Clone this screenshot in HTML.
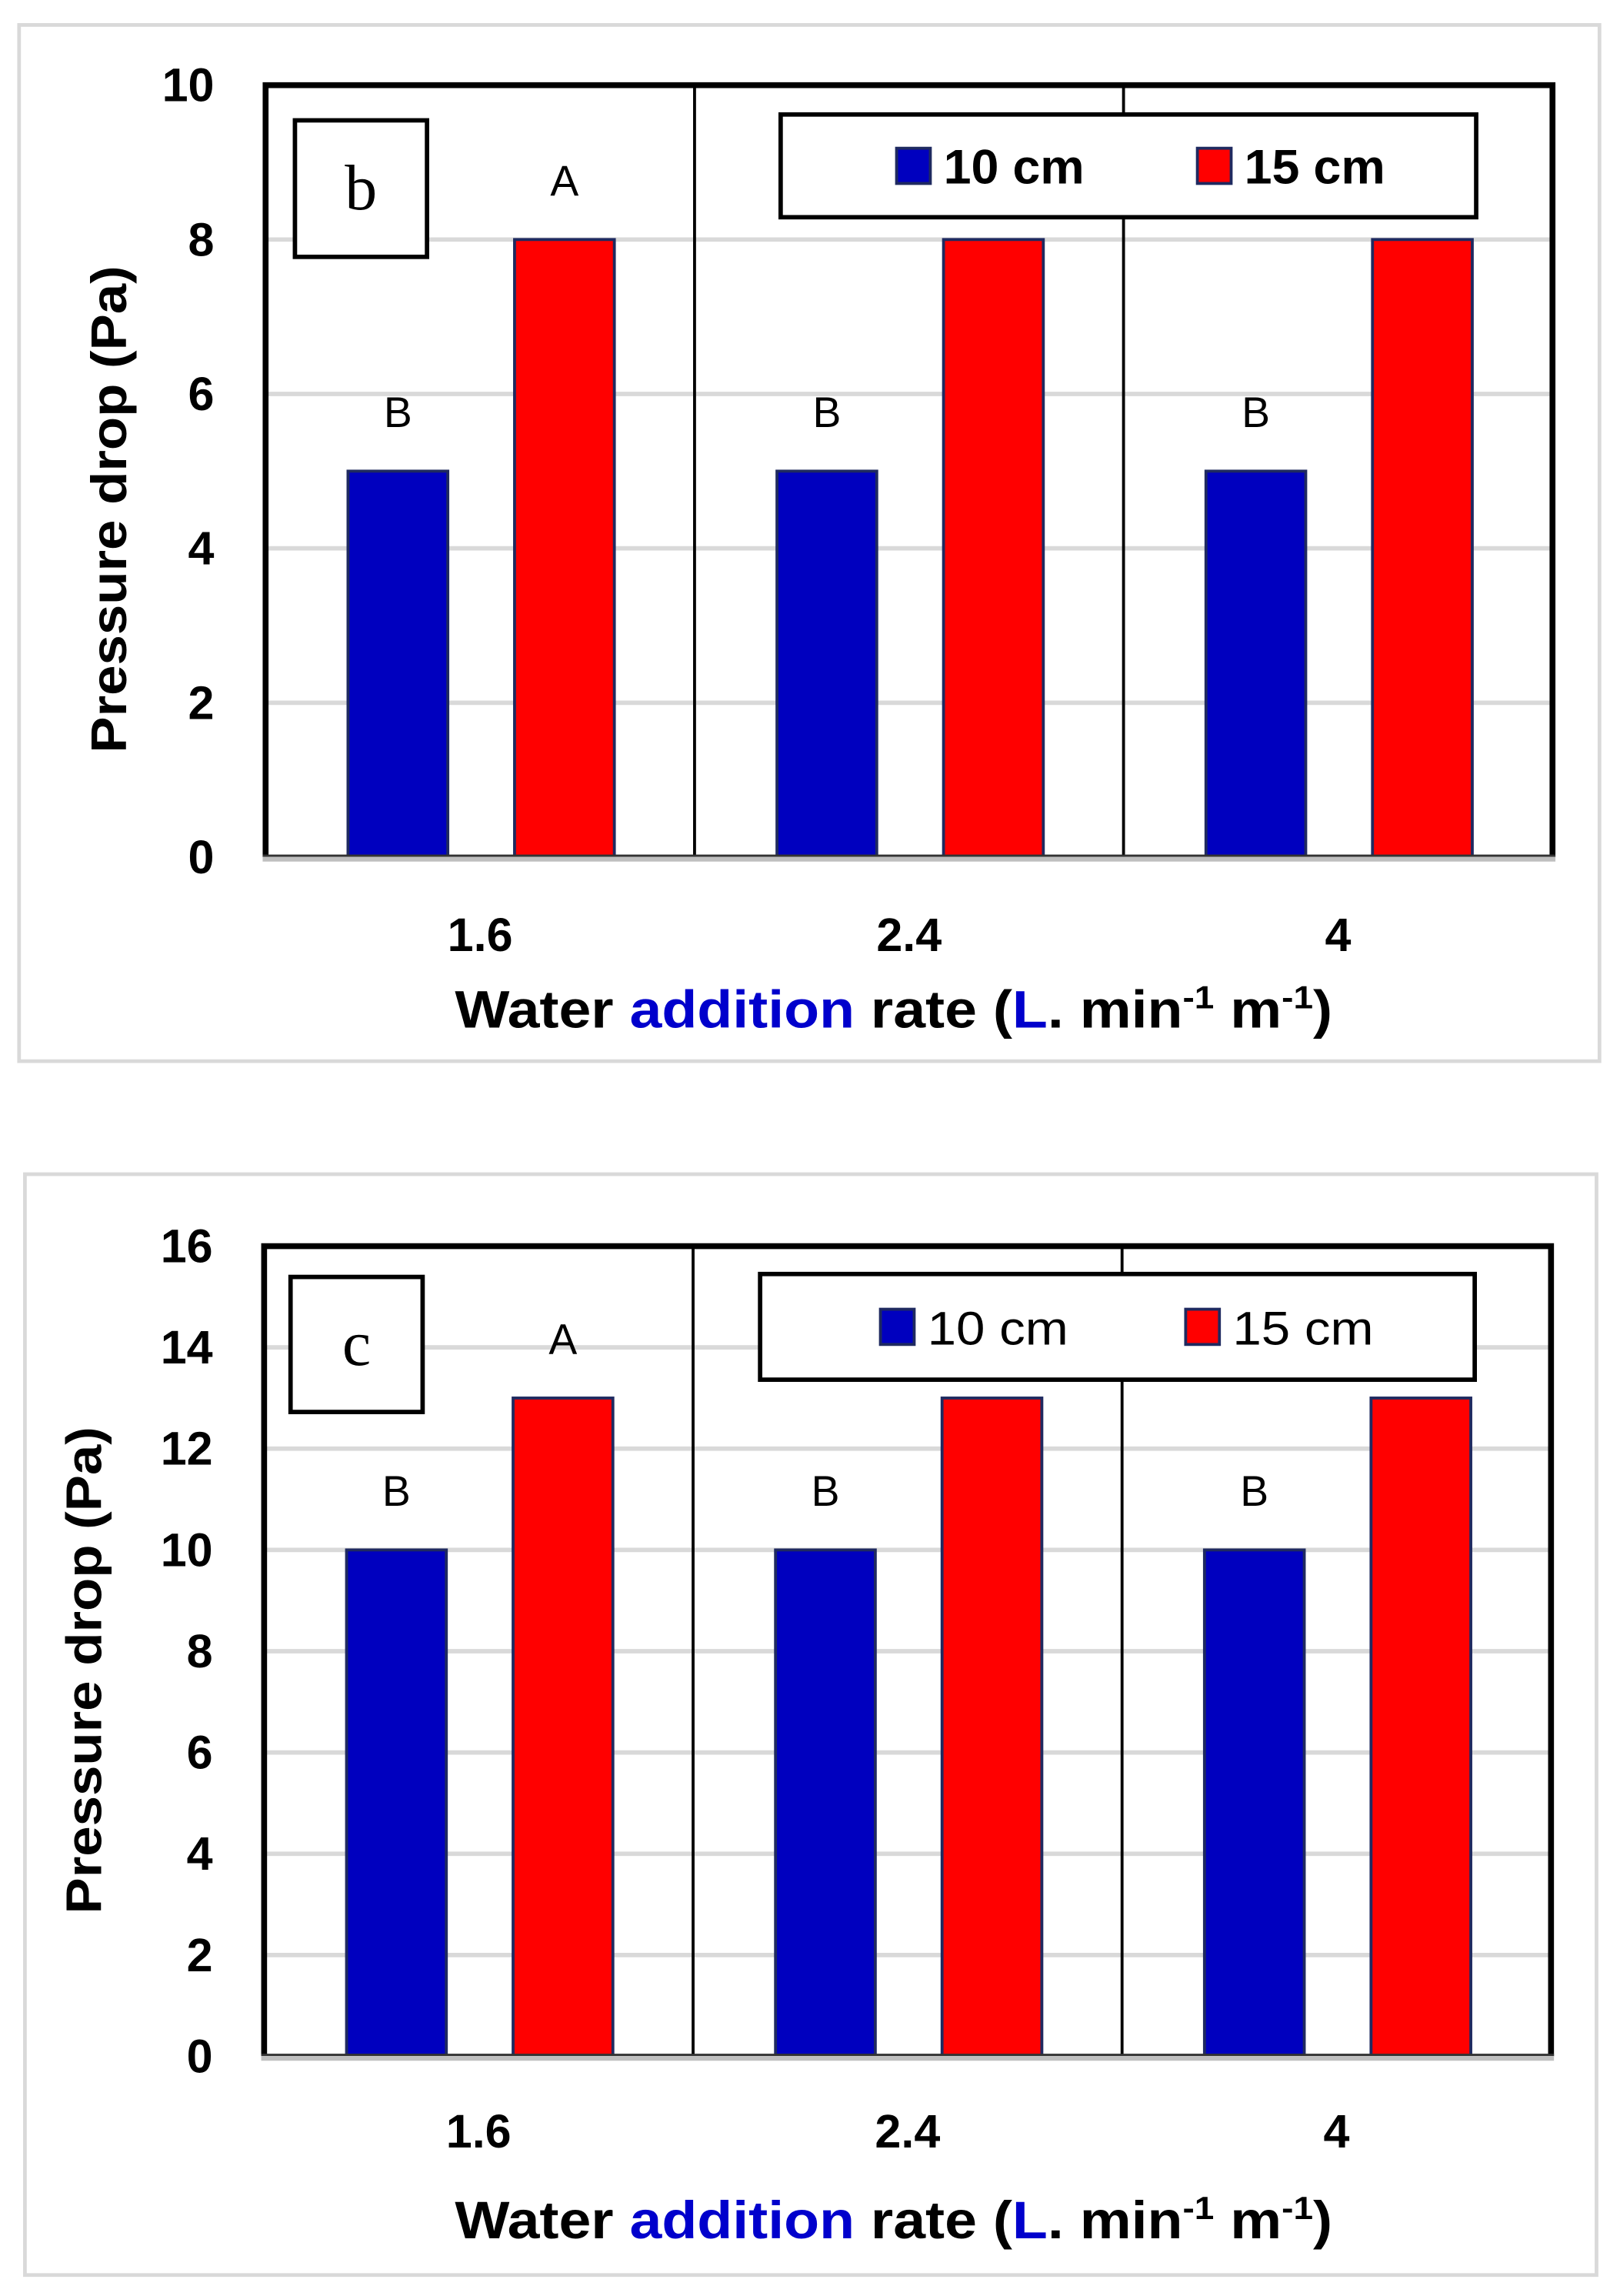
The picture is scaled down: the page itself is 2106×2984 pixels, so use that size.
<!DOCTYPE html>
<html><head><meta charset="utf-8"><style>
html,body{margin:0;padding:0;background:#fff}
svg{display:block}
text{font-family:"Liberation Sans",sans-serif}
</style></head><body>
<svg id="fig" width="2106" height="2984" viewBox="0 0 1104 1564.3" preserveAspectRatio="none" xmlns="http://www.w3.org/2000/svg"></svg>
<script>
const categories = ["1.6", "2.4", "4"];
const seriesNames = ["10 cm", "15 cm"];
const valuesB10 = [5, 5, 5];
const valuesB15 = [8, 8, 8];
const lettersB10 = ["B", "B", "B"];
const lettersB15 = ["A", "", ""];
const ticksB = [0, 2, 4, 6, 8, 10];
const valuesC10 = [10, 10, 10];
const valuesC15 = [13, 13, 13];
const lettersC10 = ["B", "B", "B"];
const lettersC15 = ["A", "", ""];
const ticksC = [0, 2, 4, 6, 8, 10, 12, 14, 16];

const NS = "http://www.w3.org/2000/svg";
const svg = document.getElementById('fig');
function mk(tag, attrs, parent, txt) {
  const e = document.createElementNS(NS, tag);
  for (const k in attrs) e.setAttribute(k, attrs[k]);
  if (txt !== undefined) e.textContent = txt;
  (parent || svg).appendChild(e);
  return e;
}
function chart(cfg) {
  const g = mk('g', {});
  
  
  const o = mk('rect', {x: cfg.outer[0], y: cfg.outer[1], width: cfg.outer[2], height: cfg.outer[3], fill: '#fff', stroke: '#d9d9d9', 'stroke-width': 2.5}, g);
  
  
  const L = cfg.left, R = cfg.right, T = cfg.top, B = cfg.bottom;
  const ymax = cfg.ticks[cfg.ticks.length - 1];
  const y = v => B - (v / ymax) * (B - T);
  const cw = (R - L) / categories.length;
  const xc = i => L + cw * (i + 0.5);
  cfg.ticks.forEach(t => {
    if (t > 0 && t < ymax) {
      const gl = mk('line', {x1: L, x2: R, y1: y(t), y2: y(t), stroke: '#d9d9d9', 'stroke-width': 3}, g);
      
      
    }
    const tl = mk('text', {x: L - 35, y: y(t) + 11, 'text-anchor': 'end', 'font-size': 32, 'font-weight': 'bold'}, g, String(t));
    
    
  });
  for (let i = 1; i < categories.length; i++) {
    const s = mk('line', {x1: L + cw * i, x2: L + cw * i, y1: T, y2: B, stroke: '#000', 'stroke-width': 2}, g);
    
    
  }
  const bw = 68;
  categories.forEach((c, i) => {
    const bx1 = xc(i) - 56 - bw / 2, bx2 = xc(i) + 57.5 - bw / 2;
    const b1 = mk('rect', {x: bx1, y: y(cfg.v10[i]), width: bw, height: B - y(cfg.v10[i]), fill: '#0000bf', stroke: '#1f2a60', 'stroke-width': 2}, g);
    
    
    const b2 = mk('rect', {x: bx2, y: y(cfg.v15[i]), width: bw, height: B - y(cfg.v15[i]), fill: '#ff0000', stroke: '#1f2a60', 'stroke-width': 2}, g);
    
    
    if (cfg.l10[i]) {
      const t = mk('text', {x: bx1 + bw / 2, y: y(cfg.v10[i]) - 30, 'text-anchor': 'middle', 'font-size': 29}, g, cfg.l10[i]);
      
      
    }
    if (cfg.l15[i]) {
      const t = mk('text', {x: bx2 + bw / 2, y: y(cfg.v15[i]) - 30, 'text-anchor': 'middle', 'font-size': 29}, g, cfg.l15[i]);
      
      
    }
    const xl = mk('text', {x: xc(i), y: cfg.xTickY, 'text-anchor': 'middle', 'font-size': 32, 'font-weight': 'bold'}, g, c);
    
    
  });
  const pb = mk('path', {d: `M${L},${B} L${L},${T} L${R},${T} L${R},${B}`, fill: 'none', stroke: '#000', 'stroke-width': 4}, g);
  
  
  const ax = mk('line', {x1: L - 2, x2: R + 2, y1: B + 1, y2: B + 1, stroke: '#bfbfbf', 'stroke-width': 4}, g);
  
  
  const ax2 = mk('line', {x1: L - 2, x2: R + 2, y1: B - 1, y2: B - 1, stroke: '#333', 'stroke-width': 1.5}, g);
  
  
  const lb = mk('rect', {x: cfg.lbox[0], y: cfg.lbox[1], width: cfg.lbox[2], height: cfg.lbox[3], fill: '#fff', stroke: '#000', 'stroke-width': 3}, g);
  
  
  const lt = mk('text', {x: cfg.lbox[0] + cfg.lbox[2] / 2, y: cfg.lbox[1] + cfg.lbox[3] / 2 + 14, 'text-anchor': 'middle', 'font-size': 44, style: 'font-family:"Liberation Serif",serif'}, g, cfg.panel);
  
  
  const lg = mk('g', {}, g);
  
  
  mk('rect', {x: cfg.leg[0], y: cfg.leg[1], width: cfg.leg[2], height: cfg.leg[3], fill: '#fff', stroke: '#000', 'stroke-width': 3}, lg);
  const cy = cfg.leg[1] + cfg.leg[3] / 2;
  [[cfg.legX[0], '#0000bf'], [cfg.legX[1], '#ff0000']].forEach((p, k) => {
    const sw = mk('rect', {x: p[0], y: cy - 12, width: 23, height: 24, fill: p[1], stroke: '#1f2a60', 'stroke-width': 2}, lg);
    
    
    const tx = mk('text', {x: p[0] + 32, y: cy + 12, 'font-size': cfg.legBold ? 33 : 32, 'font-weight': cfg.legBold ? 'bold' : 'normal', textLength: 96, lengthAdjust: 'spacingAndGlyphs'}, lg, seriesNames[k]);
    
    
  });
  const yt = mk('text', {x: 0, y: 0, transform: `translate(${cfg.yTitleX},${cfg.yTitleY}) rotate(-90)`, 'text-anchor': 'middle', 'font-size': 34, 'font-weight': 'bold', textLength: 332, lengthAdjust: 'spacingAndGlyphs'}, g, 'Pressure drop (Pa)');
  
  
  const xt = mk('text', {x: 609, y: cfg.xTitleY, 'text-anchor': 'middle', 'font-size': 36, 'font-weight': 'bold', textLength: 598, lengthAdjust: 'spacingAndGlyphs'}, g);
  
  
  mk('tspan', {}, xt, 'Water ');
  mk('tspan', {fill: '#0000cc'}, xt, 'addition');
  mk('tspan', {}, xt, ' rate (');
  mk('tspan', {fill: '#0000cc'}, xt, 'L');
  mk('tspan', {}, xt, '. min');
  mk('tspan', {dy: -13, 'font-size': 22}, xt, '-1');
  mk('tspan', {dy: 13}, xt, ' m');
  mk('tspan', {dy: -13, 'font-size': 22}, xt, '-1');
  mk('tspan', {dy: 13}, xt, ')');
}
chart({name: 'chart-b', panel: 'b', outer: [13, 17, 1077, 706], left: 181, right: 1058, top: 58, bottom: 584,
  ticks: ticksB, v10: valuesB10, v15: valuesB15, l10: lettersB10, l15: lettersB15,
  lbox: [201, 82, 90, 93], leg: [532, 78, 474, 70], legX: [611, 816], legBold: true,
  yTitleX: 86, yTitleY: 347, xTickY: 648, xTitleY: 700});
chart({name: 'chart-c', panel: 'c', outer: [17, 800, 1071, 750], left: 180, right: 1057, top: 849, bottom: 1401,
  ticks: ticksC, v10: valuesC10, v15: valuesC15, l10: lettersC10, l15: lettersC15,
  lbox: [198, 870, 90, 92], leg: [518, 868, 487, 72], legX: [600, 808], legBold: false,
  yTitleX: 69, yTitleY: 1138, xTickY: 1463, xTitleY: 1525});
</script>
</body></html>
